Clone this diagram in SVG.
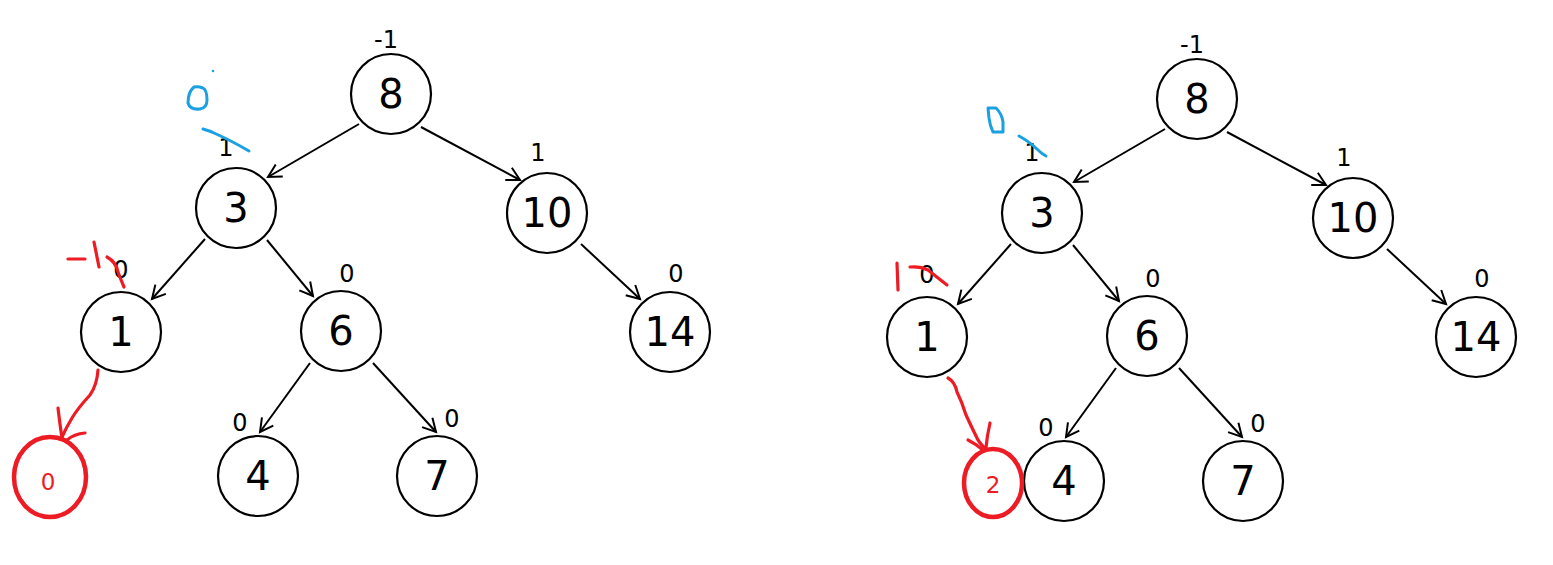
<svg xmlns="http://www.w3.org/2000/svg" width="1553" height="565" viewBox="0 0 1553 565">
<defs>
<style>
.n circle{fill:#fff;stroke:#000;stroke-width:2.2}
.n text{font-family:"DejaVu Sans","Liberation Sans",sans-serif;font-size:40px;text-anchor:middle;fill:#000}
.lbl{font-family:"DejaVu Sans","Liberation Sans",sans-serif;font-size:24px;text-anchor:middle;fill:#000}
.e line{stroke:#000;stroke-width:2;marker-end:url(#ah)}
.red{fill:none;stroke:#ed1c24;stroke-width:3.2;stroke-linecap:round;stroke-linejoin:round}
.blue{fill:none;stroke:#1ba1e2;stroke-width:3;stroke-linecap:round;stroke-linejoin:round}
.rt{font-family:"DejaVu Sans","Liberation Sans",sans-serif;font-size:23px;text-anchor:middle;fill:#ed1c24}
</style>
<marker id="ah" markerUnits="userSpaceOnUse" markerWidth="18" markerHeight="18" refX="14" refY="8" orient="auto" viewBox="0 0 18 16">
<path d="M1,1 L14,8 L1,15" fill="none" stroke="#000" stroke-width="2"/>
</marker>
</defs>
<rect width="1553" height="565" fill="#fff"/>

<g id="tree-left">
<g id="connectors-left" class="e">
<line x1="359" y1="124" x2="268" y2="177"/>
<line x1="421" y1="127" x2="520" y2="180"/>
<line x1="205" y1="239" x2="152" y2="299"/>
<line x1="267" y1="240" x2="313" y2="296"/>
<line x1="581" y1="244" x2="640" y2="299"/>
<line x1="310" y1="363" x2="260" y2="432"/>
<line x1="373" y1="363" x2="436" y2="432"/>
</g>
<g id="L-n8" class="n"><circle cx="391" cy="94" r="40"/><text x="391" y="108">8</text></g>
<g id="L-n3" class="n"><circle cx="236" cy="208" r="40"/><text x="236" y="222">3</text></g>
<g id="L-n10" class="n"><circle cx="547" cy="213" r="40"/><text x="547" y="227">10</text></g>
<g id="L-n1" class="n"><circle cx="121" cy="332" r="40"/><text x="121" y="346">1</text></g>
<g id="L-n6" class="n"><circle cx="341" cy="331" r="40"/><text x="341" y="345">6</text></g>
<g id="L-n14" class="n"><circle cx="670" cy="332" r="40"/><text x="670" y="346">14</text></g>
<g id="L-n4" class="n"><circle cx="258" cy="476" r="40"/><text x="258" y="490">4</text></g>
<g id="L-n7" class="n"><circle cx="437" cy="476" r="40"/><text x="437" y="490">7</text></g>
<g id="L-labels">
<text class="lbl" x="386" y="48">-1</text>
<text class="lbl" x="226" y="156">1</text>
<text class="lbl" x="538" y="161">1</text>
<text class="lbl" x="121" y="278">0</text>
<text class="lbl" x="347" y="282">0</text>
<text class="lbl" x="676" y="282">0</text>
<text class="lbl" x="240" y="431">0</text>
<text class="lbl" x="452" y="427">0</text>
</g>
<g id="L-red-node">
<ellipse cx="50" cy="477" rx="36" ry="40" fill="none" stroke="#ed1c24" stroke-width="4.5"/>
<text class="rt" x="48" y="490">0</text>
</g>
<g id="L-red-marks">
<path class="red" d="M68,259 L85,259"/>
<path class="red" d="M94,242 L99,267"/>
<path class="red" d="M107,257 Q116,262 118,272 Q121,280 124,287"/>
<path class="red" d="M98,370 Q97,385 90,395 Q78,408 72,418 Q66,428 62,437"/>
<path class="red" d="M58,408 Q60,425 62,438"/>
<path class="red" d="M85,433 Q74,434 67,440"/>
</g>
<g id="L-blue-marks">
<path class="blue" d="M194,87 Q188,92 188,103 Q190,110 200,109 Q207,108 207,100 Q207,90 203,88 Q198,86 194,87 Z"/>
<circle cx="213" cy="71" r="1.3" fill="#1ba1e2"/>
<path class="blue" d="M203,129 Q210,131 214,133 Q230,140 249,151"/>
</g>
</g>

<g id="tree-right" transform="translate(806,5)">
<g id="connectors-right" class="e">
<line x1="359" y1="124" x2="268" y2="177"/>
<line x1="421" y1="127" x2="520" y2="180"/>
<line x1="205" y1="239" x2="152" y2="299"/>
<line x1="267" y1="240" x2="313" y2="296"/>
<line x1="581" y1="244" x2="640" y2="299"/>
<line x1="310" y1="363" x2="260" y2="432"/>
<line x1="373" y1="363" x2="436" y2="432"/>
</g>
<g id="R-n8" class="n"><circle cx="391" cy="94" r="40"/><text x="391" y="108">8</text></g>
<g id="R-n3" class="n"><circle cx="236" cy="208" r="40"/><text x="236" y="222">3</text></g>
<g id="R-n10" class="n"><circle cx="547" cy="213" r="40"/><text x="547" y="227">10</text></g>
<g id="R-n1" class="n"><circle cx="121" cy="332" r="40"/><text x="121" y="346">1</text></g>
<g id="R-n6" class="n"><circle cx="341" cy="331" r="40"/><text x="341" y="345">6</text></g>
<g id="R-n14" class="n"><circle cx="670" cy="332" r="40"/><text x="670" y="346">14</text></g>
<g id="R-n4" class="n"><circle cx="258" cy="476" r="40"/><text x="258" y="490">4</text></g>
<g id="R-n7" class="n"><circle cx="437" cy="476" r="40"/><text x="437" y="490">7</text></g>
<g id="R-labels">
<text class="lbl" x="386" y="48">-1</text>
<text class="lbl" x="226" y="156">1</text>
<text class="lbl" x="538" y="161">1</text>
<text class="lbl" x="121" y="278">0</text>
<text class="lbl" x="347" y="282">0</text>
<text class="lbl" x="676" y="282">0</text>
<text class="lbl" x="240" y="431">0</text>
<text class="lbl" x="452" y="427">0</text>
</g>
</g>
<g id="R-red-node">
<ellipse cx="993" cy="483" rx="29" ry="34" fill="none" stroke="#ed1c24" stroke-width="4.5"/>
<text class="rt" x="993" y="493">2</text>
</g>
<g id="R-red-marks">
<path class="red" d="M897,263 L898,290"/>
<path class="red" d="M910,267 Q920,266 928,270 Q938,278 947,285"/>
<path class="red" d="M948,378 Q955,382 957,392 Q962,402 966,415 Q972,428 978,440 Q982,446 985,448"/>
<path class="red" d="M990,423 Q987,436 986,448"/>
<path class="red" d="M968,440 Q976,444 983,450"/>
</g>
<g id="R-blue-marks">
<path class="blue" d="M988,108 L996,108 Q1002,114 1003,122 L1003,132 L993,132 Q990,126 989,118 Z"/>
<path class="blue" d="M1019,136 Q1030,142 1038,150 Q1042,154 1046,156"/>
</g>
</svg>
